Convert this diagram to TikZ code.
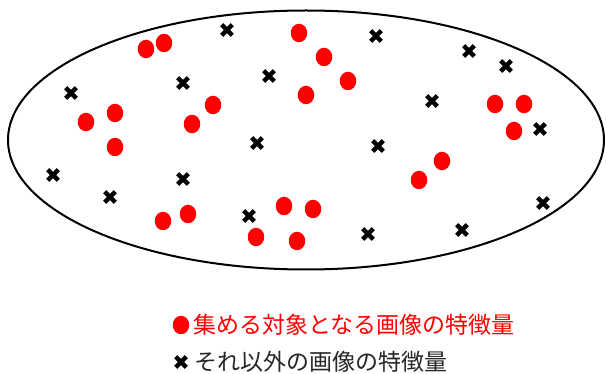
\documentclass[tikz,border=0pt]{standalone}
\usepackage{fontspec}
\newfontfamily\jp{Noto Sans CJK JP}
\usetikzlibrary{shapes.geometric}
\tikzset{
  rdot/.style={ellipse, fill=red, draw=none, inner sep=0pt, minimum width=16.5pt, minimum height=18.5pt},
  xmark/.style={rectangle, draw=none, inner sep=0pt, minimum size=18pt,
    path picture={
      \draw[line width=4.4pt] ([shift={(-5.3pt,-5.3pt)}]path picture bounding box.center) -- ([shift={(5.3pt,5.3pt)}]path picture bounding box.center);
      \draw[line width=4.4pt] ([shift={(-5.3pt,5.3pt)}]path picture bounding box.center) -- ([shift={(5.3pt,-5.3pt)}]path picture bounding box.center);
    }},
  legtext/.style={anchor=west, inner sep=0pt, font=\jp\fontsize{23pt}{24pt}\selectfont},
}
\begin{document}
\begin{tikzpicture}[x=1pt,y=-1pt]
\useasboundingbox (0,0) rectangle (606,374);
\node[ellipse, draw, line width=2pt, minimum width=596pt, minimum height=259pt, inner sep=0pt] (set) at (306,140) {};
% red dots
\foreach \n/\x/\y in {1/146/49, 2/164/43, 3/299/33, 4/324/57, 5/348/81, 6/306/95, 7/213/105, 8/192/124, 9/86/122, 10/115/113, 11/115/147, 12/163/221, 13/188/214, 14/284/206, 15/313/209, 16/256/237, 17/297/241, 18/419/180, 19/442/161, 20/495/104, 21/524/104, 22/514/131}
  \node[rdot] (r\n) at (\x,\y) {};
% crosses
\foreach \n/\x/\y in {1/227/30, 2/183/83, 3/269/76, 4/71/93, 5/376/36, 6/469/51, 7/506/66, 8/432/101, 9/540/129, 10/257/143, 11/53/175, 12/110/197, 13/183/179, 14/249/216, 15/378/146, 16/368/234, 17/462/230, 18/543/203}
  \node[xmark] (x\n) at (\x,\y) {};
% legend
\node[rdot] (legdot) at (181,325) {};
\node[legtext, text=red] (leg1) at (193,325) {集める対象となる画像の特徴量};
\node[xmark] (legx) at (181,362) {};
\node[legtext, text=black!85] (leg2) at (194,362) {それ以外の画像の特徴量};
\end{tikzpicture}
\end{document}
